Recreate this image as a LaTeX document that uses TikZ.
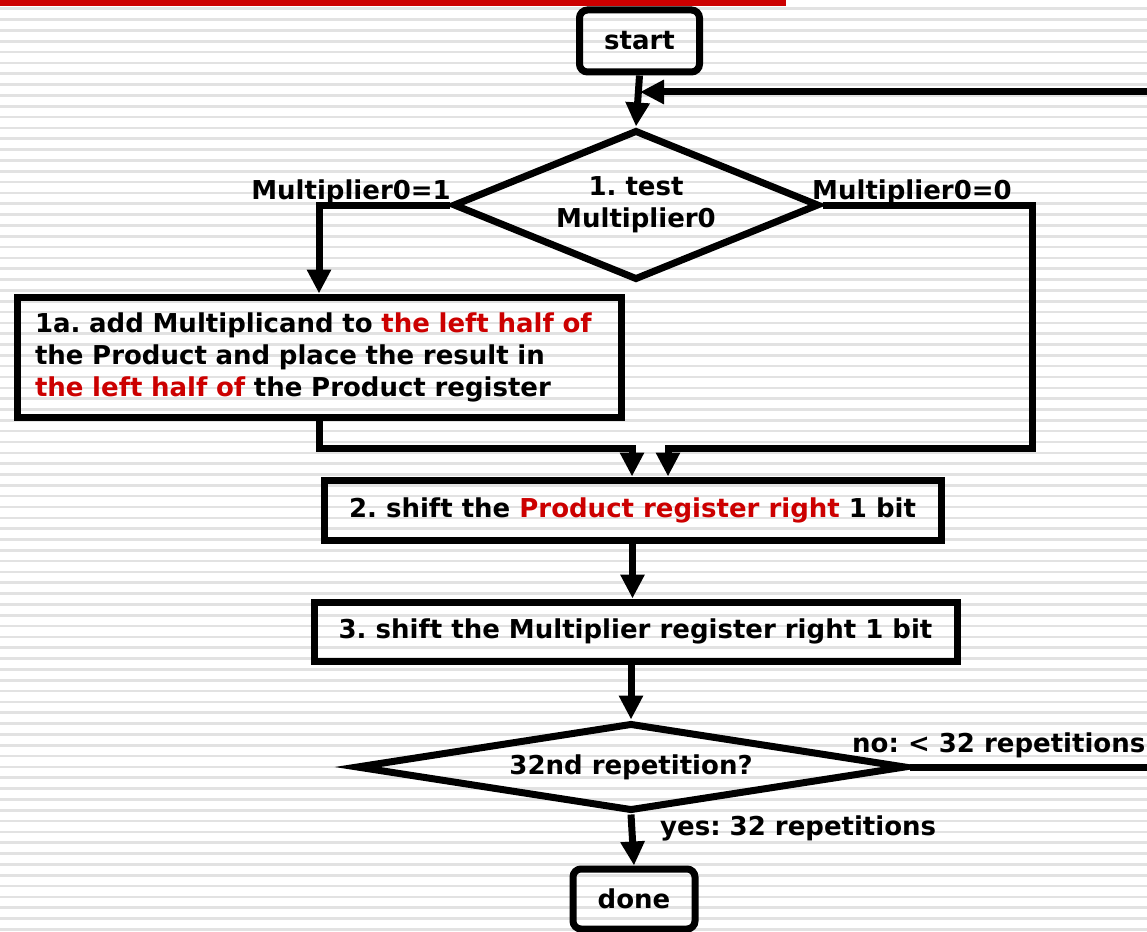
\documentclass[tikz,border=0pt]{standalone}
\usepackage{fontspec}
\setmainfont{DejaVu Sans}
\usetikzlibrary{arrows.meta,shapes.geometric}
\definecolor{slidered}{RGB}{204,0,0}
\definecolor{stripegray}{RGB}{226,226,226}
\tikzset{
  box/.style={draw, line width=7pt, inner sep=0pt, font=\fontsize{26}{32}\selectfont\bfseries},
  term/.style={box, rounded corners=8pt},
  test/.style={box, shape=diamond, align=center},
  flow/.style={line width=7pt, -{Triangle[width=23pt,length=24pt]}},
  lbl/.style={font=\fontsize{26}{32}\selectfont\bfseries, inner sep=0pt},
}
\newcommand{\hl}[1]{\textcolor{slidered}{#1}}
\frenchspacing
\begin{document}
\begin{tikzpicture}[x=1pt,y=-1pt]
\useasboundingbox (0,0) rectangle (1147,931);
\clip (0,0) rectangle (1147,931);

%Background stripes
\foreach \i in {0,...,86}
	\fill[stripegray] (0,{7.5+\i*10.83}) rectangle ++(1147,2.6);
\fill[slidered] (0,0) rectangle (786,6);

%Boxes
\node[term, minimum width=120, minimum height=62] (start) at (639.5,41) {start};
\node[test, minimum width=366, minimum height=150, aspect=2.4] (test) at (636,205) {1. test\\Multiplier0};
\node[box, minimum width=604, minimum height=120, text width=568, inner xsep=18, align=left] (add) at (319,357)
	{1a. add Multiplicand to \hl{the left half of}\\the Product and place the result in\\\hl{the left half of} the Product register};
\node[box, minimum width=617, minimum height=60] (shiftp) at (632.5,510) {2. shift the \hl{Product register right} 1 bit};
\node[box, minimum width=643, minimum height=59] (shiftm) at (635.5,631.5) {3. shift the Multiplier register right 1 bit};
\node[test, minimum width=550, minimum height=88, aspect=6.2] (rep) at (631,767) {32nd repetition?};
\node[term, minimum width=122, minimum height=60] (done) at (634,899) {done};

%Labels
\node[lbl, anchor=base east] (one) at (451,199) {Multiplier0=1};
\node[lbl, anchor=base west] (zero) at (812,199) {Multiplier0=0};
\node[lbl, anchor=base west] (no) at (852,752) {no: < 32 repetitions};
\node[lbl, anchor=base west] (yes) at (660,835) {yes: 32 repetitions};

%Corners
\coordinate (jl) at (632,448);
\coordinate (jr) at (668,448);
\coordinate (rc) at (1032,448);
\coordinate (loopin) at (640,92);
\coordinate (loopout) at (1170,92);

%Arrows
\draw[flow] (start.south) -- (test.north);
\draw[flow] (test.west) -| (add.north);
\draw[flow] (add.south) |- (jl) -- (jl |- shiftp.north);
\draw[flow] (test.east) -| (rc) -- (jr) -- (jr |- shiftp.north);
\draw[flow] (shiftp.south) -- (shiftp.south |- shiftm.north);
\draw[flow] (rep.north |- shiftm.south) -- (rep.north);
\draw[flow] (rep.south) -- (done.north);
\draw[flow] (rep.east) -| (loopout) -- (loopin);
\end{tikzpicture}
\end{document}
